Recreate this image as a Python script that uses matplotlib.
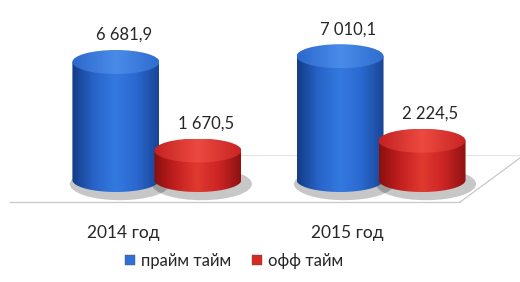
import numpy as np
import matplotlib.pyplot as plt
from matplotlib.patches import Polygon, Ellipse, Rectangle
from matplotlib.colors import LinearSegmentedColormap
import matplotlib.transforms as mtransforms

plt.rcParams['font.family'] = ['Lato', 'DejaVu Sans']

categories = ["2014 год", "2015 год"]
series = ["прайм тайм", "офф тайм"]
prime = [6681.9, 7010.1]
off = [1670.5, 2224.5]

body_colors = {
    "прайм тайм": ["#143c88", "#2864c8", "#3479e0", "#2a68cf", "#1a4596"],
    "офф тайм": ["#8a0f0f", "#c42020", "#e03a30", "#cc2424", "#8e1212"],
}
top_colors = {
    "прайм тайм": ["#2c68cc", "#4a8be8", "#2f6dd0"],
    "офф тайм": ["#c42222", "#ec4a40", "#c82424"],
}
legend_colors = {"прайм тайм": "#2f6fd6", "офф тайм": "#d42a22"}

fig = plt.figure(figsize=(5.2, 2.82), dpi=100)
ax = fig.add_axes([0, 0, 1, 1])
ax.axis('off')

xlim = (-0.70, 1.62)
ylim = (-5776, 10193)
ax.set_xlim(*xlim)
ax.set_ylim(*ylim)

px_x = (xlim[1] - xlim[0]) / 520.0
px_y = (ylim[1] - ylim[0]) / 282.0

bar_w = 87 * px_x
offset = 41 * px_x
ell_h = 24 * px_y


def fmt(v):
    s = f"{v:,.1f}"
    return s.replace(",", " ").replace(".", ",")


def cylinder(xc, h, name):
    x0, x1 = xc - bar_w / 2, xc + bar_w / 2
    # shadow
    ax.add_patch(Ellipse((xc + 4 * px_x, -4 * px_y), bar_w * 1.15, ell_h * 1.35,
                         facecolor="#000000", alpha=0.22, edgecolor="none", zorder=1))
    # body
    t = np.linspace(np.pi, 2 * np.pi, 60)
    bx = xc + bar_w / 2 * np.cos(t)
    by = ell_h / 2 * np.sin(t)
    verts = [(x0, h)] + list(zip(bx, by)) + [(x1, h)]
    body = Polygon(verts, closed=True, facecolor="none", edgecolor="none")
    ax.add_patch(body)
    cmap = LinearSegmentedColormap.from_list("b", body_colors[name])
    grad = np.linspace(0, 1, 200)[None, :]
    im = ax.imshow(grad, cmap=cmap, extent=[x0, x1, -ell_h, h], aspect='auto', zorder=2)
    im.set_clip_path(body)
    # top
    top = Ellipse((xc, h), bar_w, ell_h, facecolor="none", edgecolor="none")
    ax.add_patch(top)
    cmap2 = LinearSegmentedColormap.from_list("t", top_colors[name])
    im2 = ax.imshow(grad, cmap=cmap2, extent=[x0, x1, h - ell_h / 2, h + ell_h / 2],
                    aspect='auto', zorder=3)
    im2.set_clip_path(top)
    ax.annotate(fmt(h), (xc, h + ell_h / 2), xytext=(6, 5), textcoords='offset points',
                ha='center', va='bottom', fontsize=12, color="#262626", zorder=4)


# floor
floor_kw = dict(color="#c8c8c8", lw=0.9, transform=ax.transAxes, zorder=0)
ax.plot([0.02, 0.885], [1 - 202 / 282] * 2, **floor_kw)
ax.plot([0.885, 1.0], [1 - 202 / 282, 1 - 158 / 282], **floor_kw)
ax.plot([0.40, 1.0], [1 - 155 / 282] * 2, color="#e4e4e4", lw=0.8,
        transform=ax.transAxes, zorder=0)

for i in range(len(categories)):
    cylinder(i - offset, prime[i], series[0])
    cylinder(i + offset, off[i], series[1])
    ax.text(i - 0.15, 1 - 233 / 282, categories[i],
            transform=mtransforms.blended_transform_factory(ax.transData, ax.transAxes),
            ha='center', va='center', fontsize=12.5, color="#262626")

ax.set_xlim(*xlim)
ax.set_ylim(*ylim)

handles = [Rectangle((0, 0), 1, 1, facecolor=legend_colors[s], edgecolor="#555555", lw=0.3)
           for s in series]
fig.legend(handles, series, loc='center', bbox_to_anchor=(0.45, 1 - 261 / 282), ncol=2,
           frameon=False, fontsize=12, handlelength=0.6, handleheight=0.6,
           columnspacing=1.2, handletextpad=0.4, labelcolor="#262626")

fig.savefig("out.png", dpi=100)
